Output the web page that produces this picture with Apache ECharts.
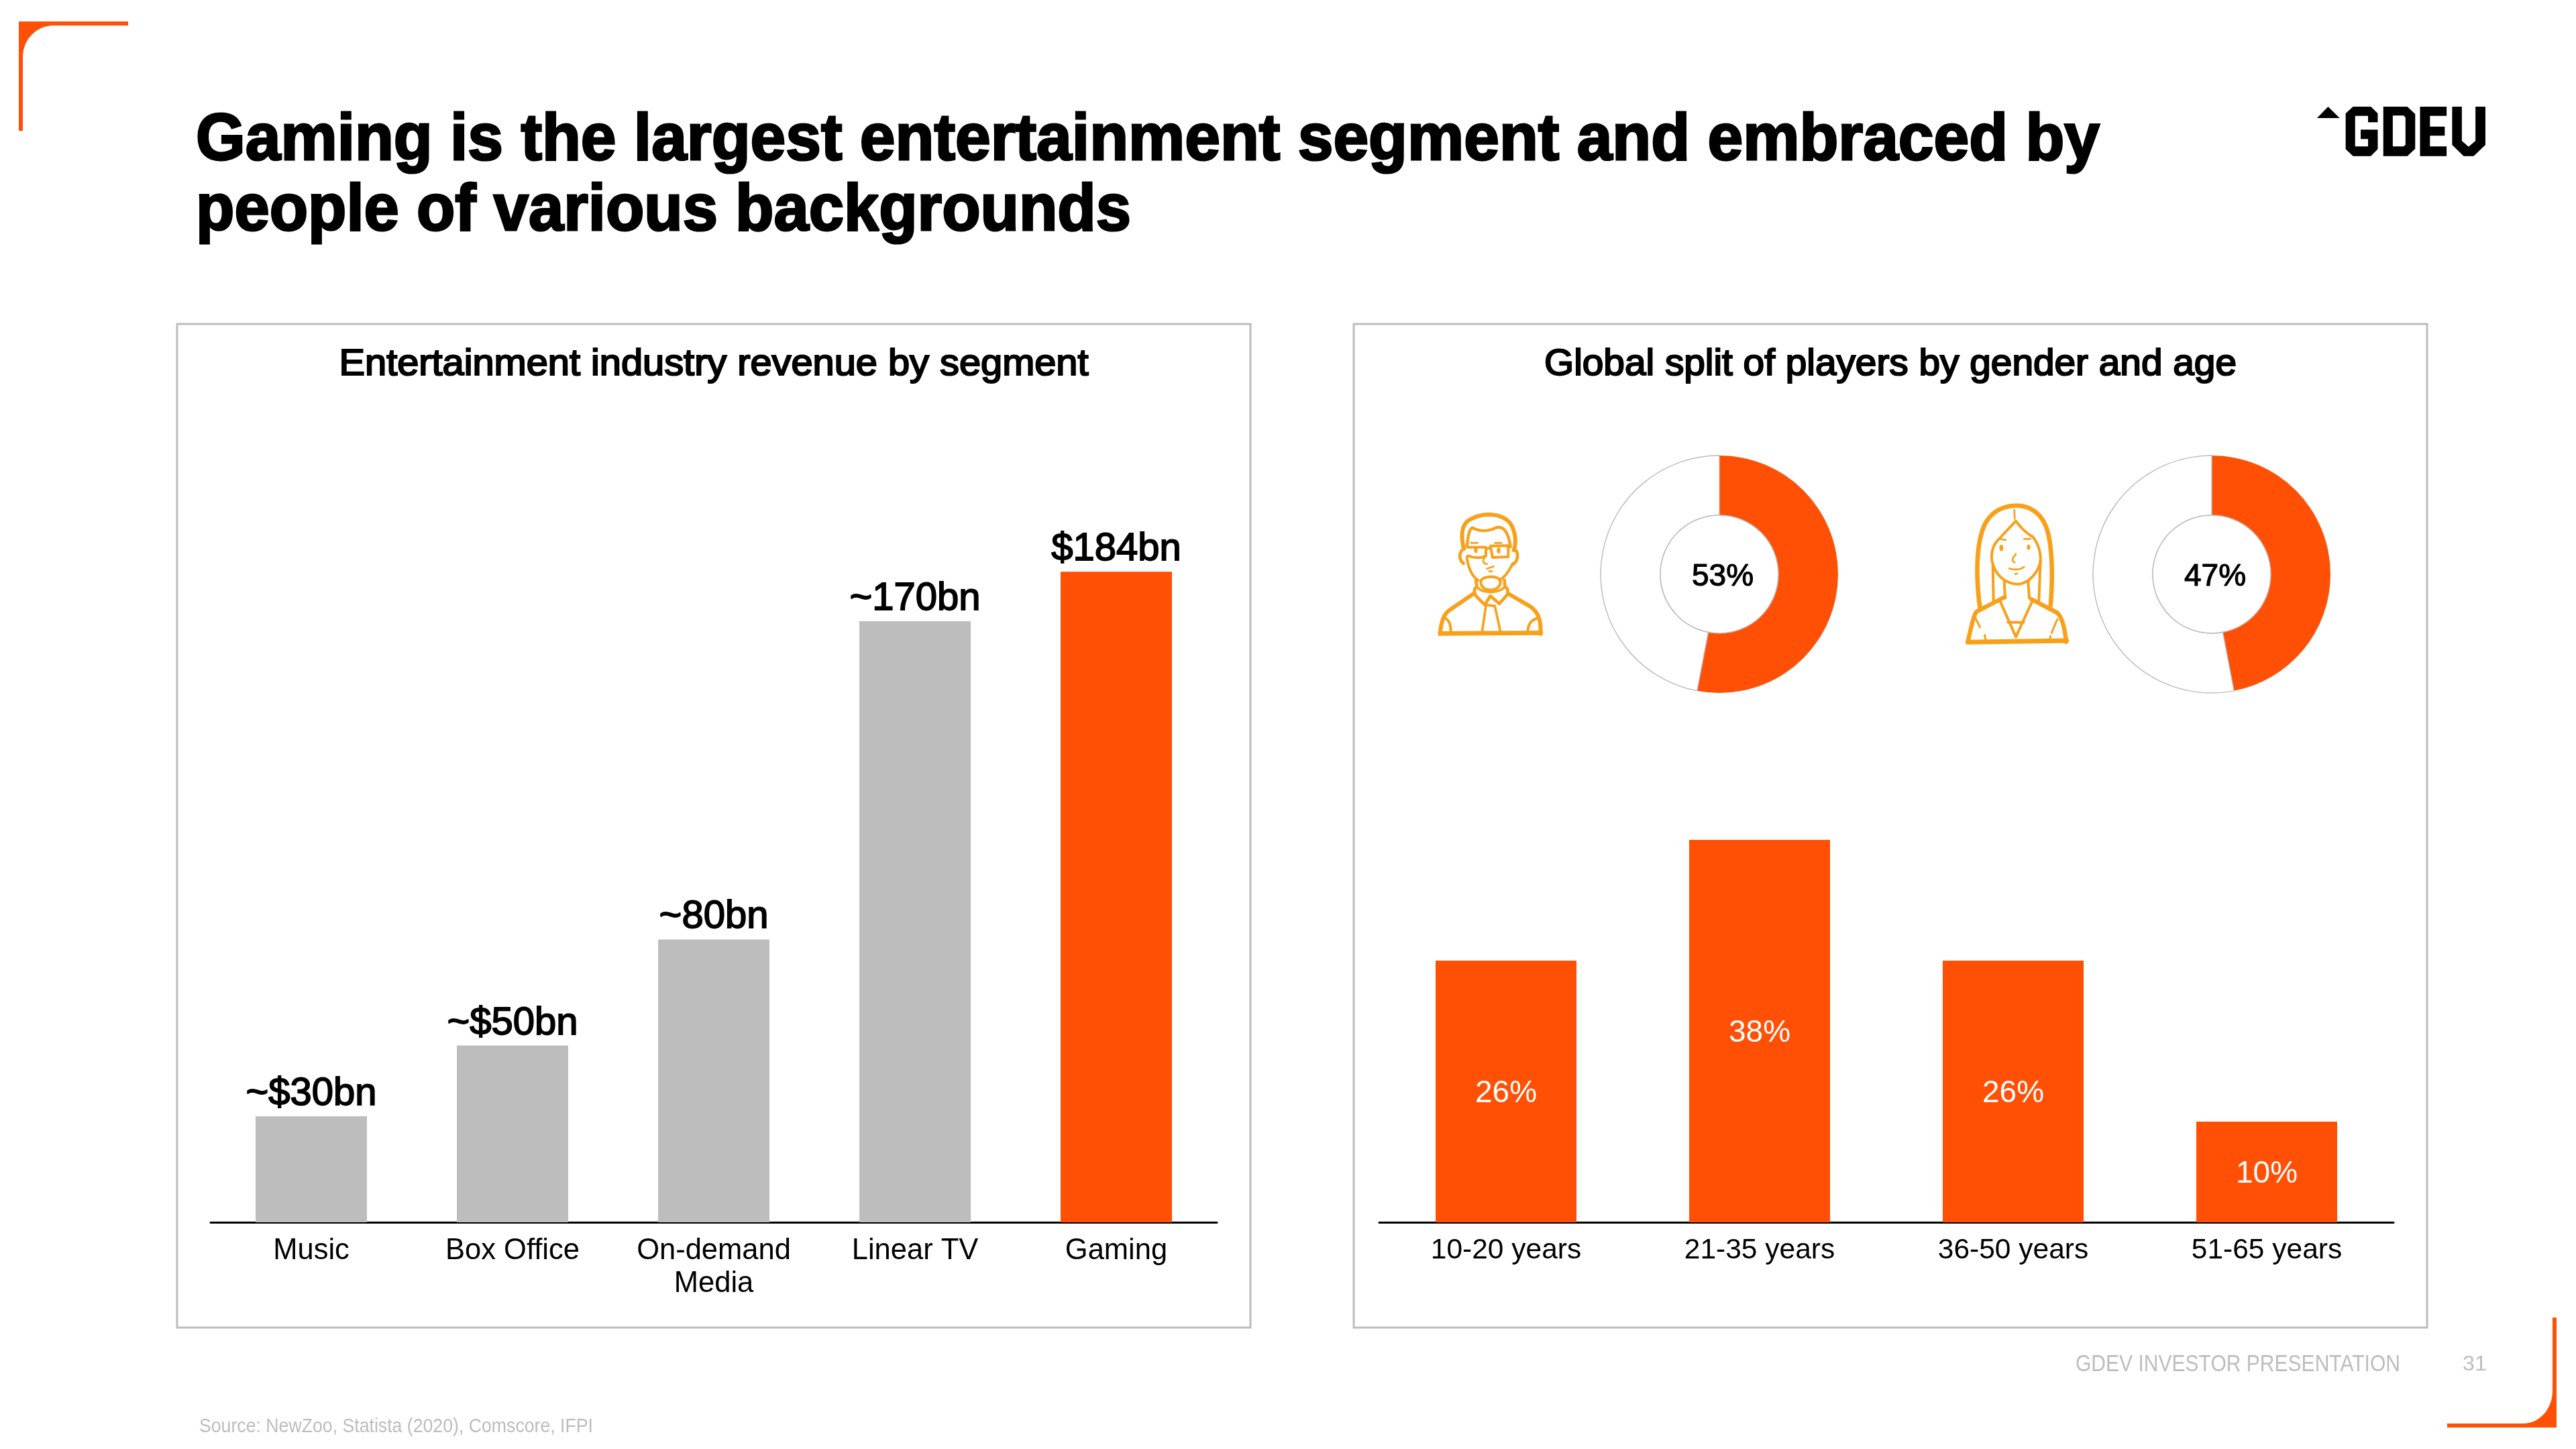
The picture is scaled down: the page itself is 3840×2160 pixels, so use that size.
<!DOCTYPE html>
<html><head><meta charset="utf-8">
<style>html,body{margin:0;padding:0;background:#fff}#c{width:3840px;height:2160px}</style>
<script src="https://cdn.jsdelivr.net/npm/echarts@6/dist/echarts.min.js"></script>
</head><body><div id="c"></div>
<script>
const segmentNames = ['Music','Box Office','On-demand\nMedia','Linear TV','Gaming'];
const segmentValues = [30,50,80,170,184];
const segmentLabels = ['~$30bn','~$50bn','~80bn','~170bn','$184bn'];
const ageNames = ['10-20 years','21-35 years','36-50 years','51-65 years'];
const ageValues = [26,38,26,10];
const maleShare = [53,47];
const femaleShare = [47,53];
const ORANGE='#FF5005', GREY='#BDBDBD', ICON='#F9A01B';
const FONT='"Liberation Sans"';

const chart = echarts.init(document.getElementById('c'),null,{renderer:'canvas'});
const measureCtx=document.createElement('canvas').getContext('2d');

// text squeezed horizontally to the width it has in the reference
function txt(t,x,y,size,weight,color,align,target,bold){
  measureCtx.font=weight+' '+size+'px '+FONT;
  const sx=target?target/measureCtx.measureText(t).width:1;
  const style={text:t,fontFamily:FONT,fontSize:size,fontWeight:weight,fill:color,align:align||'left',verticalAlign:'middle'};
  if(bold){style.stroke=color;style.lineWidth=bold;}
  return {type:'text',x:x,y:y,scaleX:sx,silent:true,style:style};
}
function subpaths(d){
  const out=[]; let cur=null;
  const re=/([MLCZ])([^MLCZ]*)/g; let m;
  while((m=re.exec(d))){
    const n=m[2].trim().split(/[\s,]+/).filter(Boolean).map(Number);
    if(m[1]==='M'){cur={pts:[[n[0],n[1]]],closed:false};out.push(cur);}
    else if(m[1]==='L'){cur.pts.push([n[0],n[1]]);}
    else if(m[1]==='C'){
      const p0=cur.pts[cur.pts.length-1];
      for(let i=1;i<=16;i++){const t=i/16,u=1-t;
        cur.pts.push([u*u*u*p0[0]+3*u*u*t*n[0]+3*u*t*t*n[2]+t*t*t*n[4],u*u*u*p0[1]+3*u*u*t*n[1]+3*u*t*t*n[3]+t*t*t*n[5]]);}
    } else if(m[1]==='Z'){cur.closed=true;}
  }
  return out;
}
function strokePath(d,w,color){
  return subpaths(d).map(s=>({type:s.closed?'polygon':'polyline',shape:{points:s.pts},silent:true,
    style:{fill:null,stroke:color,lineWidth:w,lineCap:'round',lineJoin:'round'}}));
}
function fillPath(d,color,holeColor){
  return subpaths(d).map((s,i)=>({type:'polygon',shape:{points:s.pts},silent:true,style:{fill:i===0?color:holeColor,stroke:null}}));
}
const man=[
 [ 'M185 200C170 130 180 85 225 68C280 40 370 45 400 100C420 140 420 180 410 210',18],
 [ 'M200 195C205 150 210 115 225 110C260 130 300 125 330 110C360 100 385 125 395 195',13],
 [ 'M190 205C165 210 160 250 185 270M410 205C435 215 430 260 405 275',14],
 [ 'M205 197L285 197L285 235C270 248 230 245 205 235M305 192L385 190L385 240L315 243ZM285 205L305 200',12],
 [ 'M218 178L248 178M325 178L355 178',8],
 [ 'M283 240C265 255 275 275 290 272M290 293L320 283M300 305L312 305',8],
 [ 'M200 240C205 290 225 330 250 345M405 270C385 310 365 335 345 345',12],
 [ 'M262 350C265 325 345 320 350 350C352 375 325 390 305 388C280 388 262 375 262 350Z',12],
 [ 'M240 345L245 375C230 380 230 405 245 420L280 455L305 415L345 450L380 410C385 395 385 380 370 375L368 345',14],
 [ 'M245 375C270 405 340 405 370 375',11],
 [ 'M280 455L325 460M285 460L268 575M325 460L350 575',11],
 [ 'M230 405L120 480C95 500 85 530 80 585M385 405L480 460C525 490 530 530 530 585',18],
 [ 'M80 583L530 580',20],
 [ 'M95 512C125 520 128 550 128 580M515 515C480 525 472 550 472 585',12]
];
const woman=[
 [ 'M125 500C110 400 105 260 130 170C150 90 200 50 270 42C340 35 400 70 425 150C450 230 450 380 440 490',20],
 [ 'M278 60L280 100',8],
 [ 'M285 110L205 195C175 225 170 280 185 310C205 370 260 395 300 392C345 385 385 340 395 290C397 250 385 210 360 180C325 160 300 130 285 110Z',12],
 [ 'M182 310L185 465M395 290L388 465',12],
 [ 'M233 375L237 455M340 380L345 455',12],
 [ 'M215 190L240 195M322 190L350 190',8],
 [ 'M285 258C265 280 268 290 280 295M255 322C280 330 305 328 322 315M282 347L292 345',8],
 [ 'M235 450L110 515C95 530 85 590 70 650M355 460L470 520C495 545 505 600 510 650',19],
 [ 'M70 652L512 645',21],
 [ 'M215 470L285 628L360 465M250 563L320 563',12],
 [ 'M105 545L125 585M145 620L150 640M470 550L445 610M440 625L438 635',9]
];
const manEyes=[[240,210,8,14],[342,212,8,14]], womanEyes=[[220,230,9,15],[342,227,8,12]];
function iconGroup(parts,eyes,x,y){
  return {type:'group',x:x,y:y,scaleX:1/3,scaleY:1/3,silent:true,children:
    parts.flatMap(p=>strokePath(p[0],p[1],ICON)).concat(eyes.map(e=>({type:'ellipse',shape:{cx:e[0],cy:e[1],rx:e[2],ry:e[3]},style:{fill:ICON}})))};
}
const logoPaths=[
 'M447 228L495 177L545 228Z',
 'M603 177L680 177L710 207L710 247L668 247L668 218L612 218L612 355L668 355L668 322L636 322L636 280L710 280L710 367L680 398L603 398L571 367L571 207Z',
 'M734 177L838 177L872 210L872 365L838 398L734 398ZM775 217L775 355L822 355L830 347L830 225L822 217Z',
 'M893 177L1008 177L1008 218L936 218L936 266L1000 266L1000 307L936 307L936 355L1008 355L1008 398L893 398Z',
 'M1032 177L1074 177L1074 330L1103 356L1133 330L1133 177L1176 177L1176 348L1125 398L1082 398L1032 348Z'
];

const graphics=[
 {type:'rect',shape:{x:264,y:483,width:1600,height:1496},style:{fill:'#fff',stroke:GREY,lineWidth:3},z:-10,silent:true},
 {type:'rect',shape:{x:2018,y:483,width:1600,height:1496},style:{fill:'#fff',stroke:GREY,lineWidth:3},z:-10,silent:true},
 ...fillPath('M28 32L191 32L191 38L80 38C55 38 34 58 34 85L34 195L28 195Z',ORANGE),
 ...fillPath('M3811 2128L3648 2128L3648 2122L3761 2122C3786 2122 3805 2100 3805 2073L3805 1964L3811 1964Z',ORANGE),
 txt('Gaming is the largest entertainment segment and embraced by',292,211,98,'bold','#000','left',2838,3),
 txt('people of various backgrounds',292,316,98,'bold','#000','left',1394,3),
 txt('Entertainment industry revenue by segment',1064,544,56,'normal','#000','center',1117,2.2),
 txt('Global split of players by gender and age',2818,544,56,'normal','#000','center',1032,2.2),
 txt('GDEV INVESTOR PRESENTATION',3094,2034,35,'normal',GREY,'left',484),
 txt('31',3671,2034,32,'normal',GREY,'left',36),
 txt('Source: NewZoo, Statista (2020), Comscore, IFPI',297,2127,29,'normal',GREY,'left',587),
 {type:'group',x:3300,y:100,scaleX:1/2.904,scaleY:1/3,silent:true,children:logoPaths.flatMap(d=>fillPath(d,'#000','#fff'))},
 iconGroup(man,manEyes,2120,750),
 iconGroup(woman,womanEyes,2910,740)
];

function donut(vals,cx,label){
  return [{
    type:'pie',center:[cx,856],radius:[88,177],startAngle:90,clockwise:true,silent:true,animation:false,
    label:{show:false},labelLine:{show:false},
    data:[{value:vals[0],itemStyle:{color:ORANGE}},{value:vals[1],itemStyle:{color:'#fff',borderColor:GREY,borderWidth:1.5}}]
  },{
    type:'pie',center:[cx,856],radius:[0,88],silent:true,animation:false,labelLine:{show:false},
    label:{show:true,position:'center',formatter:label,fontFamily:FONT,fontSize:46,color:'#000',textBorderColor:'#000',textBorderWidth:1.2,offset:[5,4]},
    data:[{value:1,itemStyle:{color:'#fff',borderColor:GREY,borderWidth:1.5}}]
  }];
}

chart.setOption({
  animation:false,backgroundColor:'#fff',
  grid:[{left:314,top:768,width:1500,height:1054},{left:2056,top:1222,width:1512,height:600}],
  xAxis:[
   {type:'category',gridIndex:0,data:segmentNames,axisTick:{show:false},axisLine:{lineStyle:{color:'#000',width:3}},
    axisLabel:{fontFamily:FONT,fontSize:43.5,color:'#000',lineHeight:49,margin:18,interval:0}},
   {type:'category',gridIndex:1,data:ageNames,axisTick:{show:false},axisLine:{lineStyle:{color:'#000',width:3}},
    axisLabel:{fontFamily:FONT,fontSize:42.5,color:'#000',lineHeight:49,margin:18,interval:0}}
  ],
  yAxis:[
   {type:'value',gridIndex:0,min:0,max:200,show:false},
   {type:'value',gridIndex:1,min:0,max:40,show:false}
  ],
  series:[
   {type:'bar',xAxisIndex:0,yAxisIndex:0,barWidth:166,silent:true,
    data:segmentValues.map((v,i)=>({value:v,itemStyle:{color:i===segmentValues.length-1?ORANGE:GREY}})),
    label:{show:true,position:'top',distance:4,fontFamily:FONT,fontSize:58,color:'#000',textBorderColor:'#000',textBorderWidth:1.8,
      formatter:p=>segmentLabels[p.dataIndex]}},
   {type:'bar',xAxisIndex:1,yAxisIndex:1,barWidth:210,silent:true,
    data:ageValues,itemStyle:{color:ORANGE},
    label:{show:true,position:'inside',offset:[0,3],fontFamily:FONT,fontSize:46,color:'#fff',formatter:p=>p.value+'%'}},
   ...donut(maleShare,2563,maleShare[0]+'%'),
   ...donut(femaleShare,3297,femaleShare[0]+'%')
  ],
  graphic:{elements:graphics}
});
</script></body></html>
